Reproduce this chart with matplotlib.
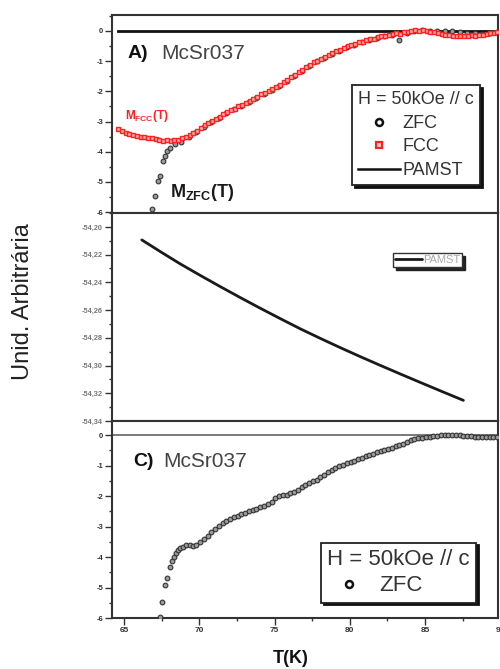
import matplotlib
matplotlib.use("Agg")
import matplotlib.pyplot as plt
from matplotlib.lines import Line2D
from matplotlib.ticker import MultipleLocator, FuncFormatter

plt.rcParams["font.family"] = ["Liberation Sans", "DejaVu Sans"]
plt.rcParams["axes.unicode_minus"] = False
plt.rcParams["mathtext.fontset"] = "custom"
plt.rcParams["mathtext.rm"] = "Liberation Sans"
plt.rcParams["mathtext.bf"] = "Liberation Sans:bold"
plt.rcParams["mathtext.it"] = "Liberation Sans:italic"

# ---------------- data ----------------
# Panel A: FCC magnetisation
t_fcc_a = [64.60, 64.85, 65.10, 65.35, 65.60, 65.85, 66.10, 66.35, 66.60, 66.85,
           67.10, 67.35, 67.60, 67.85, 68.10, 68.35, 68.60, 68.85, 69.10, 69.35,
           69.60, 69.85, 70.10, 70.35, 70.60, 70.85, 71.10, 71.35, 71.60, 71.85,
           72.10, 72.35, 72.60, 72.85, 73.10, 73.35, 73.60, 73.85, 74.10, 74.35,
           74.60, 74.85, 75.10, 75.35, 75.60, 75.85, 76.10, 76.35, 76.60, 76.85,
           77.10, 77.35, 77.60, 77.85, 78.10, 78.35, 78.60, 78.85, 79.10, 79.35,
           79.60, 79.85, 80.10, 80.35, 80.60, 80.85, 81.10, 81.35, 81.60, 81.85,
           82.10, 82.35, 82.60, 82.85, 83.10, 83.35, 83.60, 83.85, 84.10, 84.35,
           84.60, 84.85, 85.10, 85.35, 85.60, 85.85, 86.10, 86.35, 86.60, 86.85,
           87.10, 87.35, 87.60, 87.85, 88.10, 88.35, 88.60, 88.85, 89.10, 89.35,
           89.60, 89.80]
m_fcc_a = [-3.24, -3.30, -3.38, -3.41, -3.44, -3.47, -3.50, -3.51, -3.55, -3.56,
           -3.59, -3.60, -3.63, -3.62, -3.65, -3.62, -3.60, -3.55, -3.50, -3.44,
           -3.37, -3.30, -3.21, -3.13, -3.04, -2.97, -2.90, -2.84, -2.76, -2.70,
           -2.63, -2.57, -2.50, -2.44, -2.37, -2.31, -2.24, -2.19, -2.10, -2.04,
           -1.98, -1.92, -1.85, -1.78, -1.70, -1.62, -1.54, -1.45, -1.37, -1.29,
           -1.20, -1.12, -1.04, -0.98, -0.92, -0.85, -0.79, -0.74, -0.67, -0.62,
           -0.55, -0.51, -0.46, -0.42, -0.38, -0.35, -0.31, -0.27, -0.25, -0.21,
           -0.18, -0.15, -0.13, -0.10, -0.07, -0.10, -0.04, -0.02, 0.00, 0.02,
           0.01, 0.02, 0.00, -0.02, -0.05, -0.08, -0.11, -0.13, -0.14, -0.16,
           -0.15, -0.17, -0.15, -0.16, -0.14, -0.15, -0.12, -0.13, -0.10, -0.08,
           -0.06, -0.03]

# Panel A: ZFC magnetisation
t_zfc_a = [66.84, 67.06, 67.28, 67.39, 67.61, 67.72, 67.84, 68.06, 68.39, 68.80,
           69.30, 69.80, 70.30, 70.80, 71.30, 71.80, 72.30, 72.80, 73.30, 73.80,
           74.30, 74.80, 75.30, 75.80, 76.30, 76.80, 77.30, 77.80, 78.30, 78.80,
           79.30, 79.80, 80.30, 80.80, 81.30, 81.80, 82.30, 82.80, 83.30, 83.80,
           84.30, 84.80, 85.30, 85.80, 86.30, 86.80, 87.30, 87.80, 88.30, 88.80,
           89.30, 89.80]
m_zfc_a = [-5.91, -5.47, -4.97, -4.79, -4.31, -4.15, -3.98, -3.87, -3.76, -3.68,
           -3.52, -3.36, -3.17, -3.01, -2.87, -2.73, -2.60, -2.47, -2.35, -2.22,
           -2.08, -1.95, -1.81, -1.66, -1.49, -1.32, -1.15, -1.01, -0.88, -0.77,
           -0.65, -0.54, -0.45, -0.37, -0.30, -0.23, -0.18, -0.14, -0.30, -0.06,
           0.00, 0.03, 0.01, 0.00, -0.01, 0.00, -0.03, -0.06, -0.08, -0.10,
           -0.08, -0.05]

# Panel A: PAMST reference level
t_pamst_a = [64.6, 89.85]
m_pamst_a = [0.0, 0.0]

# Panel B: PAMST curve
t_pamst_b = [66.18, 67.45, 68.72, 70.05, 71.38, 72.71, 74.04, 75.37, 76.69, 78.02,
             79.35, 80.68, 82.01, 83.34, 84.67, 86.10, 87.55]
m_pamst_b = [-54.2094, -54.2181, -54.2266, -54.2349, -54.2430, -54.2509, -54.2586,
             -54.2661, -54.2734, -54.2803, -54.2870, -54.2935, -54.2998, -54.3060,
             -54.3121, -54.3186, -54.3251]

# Panel C: ZFC magnetisation
t_zfc_c = [67.39, 67.50, 67.72, 67.85, 68.06, 68.20, 68.30, 68.45, 68.60, 68.75,
           68.95, 69.15, 69.35, 69.55, 69.80, 70.05, 70.30, 70.55, 70.80, 71.05,
           71.30, 71.55, 71.80, 72.05, 72.30, 72.55, 72.80, 73.05, 73.30, 73.55,
           73.80, 74.05, 74.30, 74.55, 74.80, 75.05, 75.30, 75.55, 75.80, 76.05,
           76.30, 76.55, 76.80, 77.05, 77.30, 77.55, 77.80, 78.05, 78.30, 78.55,
           78.80, 79.05, 79.30, 79.55, 79.80, 80.05, 80.30, 80.55, 80.80, 81.05,
           81.30, 81.55, 81.80, 82.05, 82.30, 82.55, 82.80, 83.05, 83.30, 83.55,
           83.80, 84.05, 84.30, 84.55, 84.80, 85.05, 85.30, 85.55, 85.80, 86.05,
           86.30, 86.55, 86.80, 87.05, 87.30, 87.55, 87.80, 88.05, 88.30, 88.55,
           88.80, 89.05, 89.30, 89.55, 89.80]
m_zfc_c = [-5.96, -5.46, -4.92, -4.70, -4.32, -4.12, -3.99, -3.86, -3.78, -3.72,
           -3.66, -3.62, -3.60, -3.63, -3.61, -3.52, -3.42, -3.32, -3.19, -3.07,
           -2.97, -2.88, -2.81, -2.74, -2.70, -2.66, -2.60, -2.55, -2.50, -2.46,
           -2.41, -2.37, -2.32, -2.27, -2.18, -2.06, -2.00, -1.97, -1.95, -1.90,
           -1.86, -1.80, -1.70, -1.64, -1.58, -1.52, -1.46, -1.38, -1.30, -1.22,
           -1.14, -1.07, -1.02, -0.97, -0.92, -0.88, -0.84, -0.79, -0.74, -0.70,
           -0.65, -0.61, -0.57, -0.53, -0.49, -0.45, -0.41, -0.37, -0.33, -0.28,
           -0.23, -0.17, -0.13, -0.09, -0.11, -0.08, -0.06, -0.04, -0.03, -0.01,
           0.00, 0.01, 0.00, 0.01, 0.00, -0.02, -0.03, -0.04, -0.05, -0.06,
           -0.07, -0.08, -0.06, -0.05, -0.05]

x_ticks = [65, 70, 75, 80, 85]
legend_title = "H = 50kOe // c"

# ---------------- figure ----------------
fig = plt.figure(figsize=(5.0, 6.69), dpi=100)
left, width = 0.224, 0.772
axA = fig.add_axes([left, 0.6816, width, 0.2960])
axB = fig.add_axes([left, 0.3707, width, 0.3109])
axC = fig.add_axes([left, 0.0762, width, 0.2945])

xlim = (64.2, 89.85)
spine_c = "#333333"
for ax in (axA, axB, axC):
    ax.set_xlim(*xlim)
    for s in ax.spines.values():
        s.set_color(spine_c)
        s.set_linewidth(1.5)
    ax.xaxis.set_major_locator(MultipleLocator(5))
    ax.xaxis.set_minor_locator(MultipleLocator(2.5))
    ax.tick_params(which="both", direction="out", color=spine_c, width=1.0)
    ax.tick_params(which="major", length=5, pad=1.5)
    ax.tick_params(which="minor", length=2.5)
    ax.tick_params(axis="y", labelsize=5.5, labelcolor="#333333")

for ax in (axA, axB):
    ax.tick_params(axis="x", which="both", bottom=False, labelbottom=False)

zfc_style = dict(ls="none", marker="o", ms=3.4, mfc="#9a9a9a", mec="#333333", mew=0.8)
fcc_style = dict(ls="none", marker="s", ms=3.5, mfc="#ffb0b0", mec="#ff2020", mew=1.0)

# ----- panel A -----
axA.set_ylim(-6.03, 0.53)
axA.yaxis.set_major_locator(MultipleLocator(1))
axA.yaxis.set_minor_locator(MultipleLocator(0.5))
axA.yaxis.set_major_formatter(FuncFormatter(lambda v, p: f"{v:.0f}"))
axA.plot(t_pamst_a, m_pamst_a, color="#111111", lw=2.0, zorder=2)
axA.plot(t_zfc_a, m_zfc_a, zorder=3, **zfc_style)
axA.plot(t_fcc_a, m_fcc_a, zorder=4, **fcc_style)

axA.text(65.2, -0.75, "A)", fontsize=14, fontweight="bold", color="#111111",
         ha="left", va="center")
axA.text(67.5, -0.75, "McSr037", fontsize=15, color="#444444",
         ha="left", va="center")
axA.text(65.05, -2.8, r"$\mathbf{M_{FCC}(T)}$", fontsize=8.5, color="#ff2020",
         ha="left", va="center")
axA.text(68.05, -5.51, r"$\mathbf{M_{ZFC}(T)}$", fontsize=13, color="#1a1a1a",
         ha="left", va="baseline")

hA = [Line2D([], [], ls="none", marker="o", ms=5, mfc="white", mec="#111111", mew=1.8),
      Line2D([], [], ls="none", marker="s", ms=4.5, mfc="#ffd0d0", mec="#ff2020", mew=1.6),
      Line2D([], [], color="#111111", lw=1.8)]
legA = axA.legend(hA, ["ZFC", "FCC", "PAMST"], title=legend_title,
                  loc="upper left", bbox_to_anchor=(0.622, 0.646),
                  fontsize=13, title_fontsize=13, alignment="left",
                  frameon=True, fancybox=False, edgecolor="#222222",
                  framealpha=1.0, borderpad=0.35, labelspacing=0.36,
                  handlelength=2.3, handletextpad=0.15, borderaxespad=0.0,
                  shadow={"color": "#111111", "alpha": 1.0})
legA.get_frame().set_linewidth(1.3)
for t in legA.get_texts():
    t.set_color("#333333")
legA.get_title().set_color("#333333")

# ----- panel B -----
axB.set_ylim(-54.34, -54.19)
axB.yaxis.set_major_locator(MultipleLocator(0.02))
axB.yaxis.set_minor_locator(MultipleLocator(0.01))
axB.yaxis.set_major_formatter(FuncFormatter(lambda v, p: f"{v:.2f}".replace(".", ",")))
axB.tick_params(axis="y", labelcolor="#777777", labelsize=5.3)
axB.plot(t_pamst_b, m_pamst_b, color="#1a1a1a", lw=2.0, label="PAMST",
         solid_joinstyle="round", solid_capstyle="round")
legB = axB.legend(loc="upper left", bbox_to_anchor=(0.728, 0.808),
                  fontsize=8, frameon=True, fancybox=False, edgecolor="#333333",
                  framealpha=1.0, borderpad=0.2, handlelength=2.4,
                  handletextpad=0.1, borderaxespad=0.0,
                  shadow={"color": "#222222", "alpha": 1.0})
legB.get_frame().set_linewidth(1.0)
for t in legB.get_texts():
    t.set_color("#aaaaaa")

# ----- panel C -----
axC.set_ylim(-6.0, 0.46)
axC.yaxis.set_major_locator(MultipleLocator(1))
axC.yaxis.set_minor_locator(MultipleLocator(0.5))
axC.yaxis.set_major_formatter(FuncFormatter(lambda v, p: f"{v:.0f}"))
axC.axhline(0, color="#555555", lw=1.1, zorder=1)
axC.plot(t_zfc_c, m_zfc_c, zorder=3, **zfc_style)
axC.set_xticks(x_ticks)
axC.tick_params(axis="x", labelsize=6, labelcolor="#333333")
axC.text(90.0, -6.0, "90", fontsize=6, fontweight="bold", color="#333333",
         ha="center", va="top", clip_on=False,
         transform=axC.transData + matplotlib.transforms.ScaledTranslation(0, -6.5 / 72, fig.dpi_scale_trans))

axC.text(65.6, -0.87, "C)", fontsize=14, fontweight="bold", color="#111111",
         ha="left", va="center")
axC.text(67.6, -0.87, "McSr037", fontsize=15, color="#444444",
         ha="left", va="center")

hC = [Line2D([], [], ls="none", marker="o", ms=5, mfc="white", mec="#111111", mew=1.8)]
legC = axC.legend(hC, ["ZFC"], title=legend_title,
                  loc="center left", bbox_to_anchor=(0.541, 0.23),
                  fontsize=16, title_fontsize=16, alignment="left",
                  frameon=True, fancybox=False, edgecolor="#222222",
                  framealpha=1.0, borderpad=0.28, labelspacing=0.25,
                  handlelength=2.0, handletextpad=0.35, borderaxespad=0.0,
                  shadow={"color": "#111111", "alpha": 1.0})
legC.get_frame().set_linewidth(1.3)
for t in legC.get_texts():
    t.set_color("#333333")
legC.get_title().set_color("#333333")

for ax in (axA, axB, axC):
    for lab in ax.get_xticklabels() + ax.get_yticklabels():
        lab.set_fontweight("bold")

# axis titles
fig.text(0.046, 0.549, "Unid. Arbitrária", rotation=90, fontsize=17,
         color="#222222", ha="center", va="center")
fig.text(0.582, 0.0157, "T(K)", fontsize=13, fontweight="bold",
         color="#111111", ha="center", va="center")

fig.savefig("out.png", dpi=100)
